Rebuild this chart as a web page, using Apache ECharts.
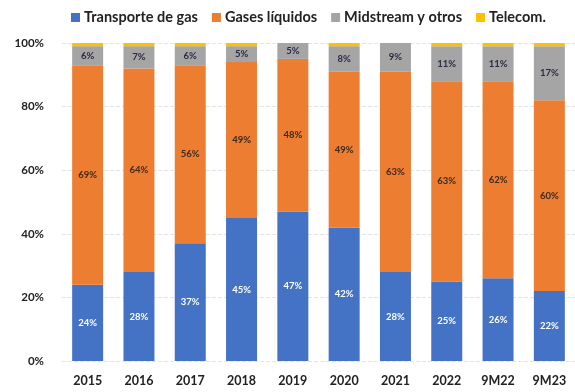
<!DOCTYPE html>
<html><head><meta charset="utf-8">
<script src="https://cdn.jsdelivr.net/npm/echarts@6/dist/echarts.min.js"></script>
<style>html,body{margin:0;padding:0;background:#fff}#c{width:575px;height:392px}</style>
</head><body><div id="c"></div>
<script>
const categories = ['2015','2016','2017','2018','2019','2020','2021','2022','9M22','9M23'];
const transporte = [24,28,37,45,47,42,28,25,26,22];
const gases = [69,64,56,49,48,49,63,63,62,60];
const midstream = [6,7,6,5,5,8,9,11,11,17];
const telecom = [1,1,1,1,0,1,0,1,1,1];
const seriesNames = ['Transporte de gas','Gases líquidos','Midstream y otros','Telecom.'];
const yTicks = [0,20,40,60,80,100];

const font = 'Lato, "Open Sans", sans-serif';
const chart = echarts.init(document.getElementById('c'));
function lbl(color){
  return {show:true, position:'inside', color:color, fontSize:9.5, fontWeight:'bold', fontFamily:font, formatter:p=>p.value+'%'};
}
chart.setOption({
  animation:false,
  legend:{top:5, left:66, itemWidth:9, itemHeight:9, itemGap:14, icon:'rect',
    textStyle:{fontSize:14.5, fontWeight:'bold', fontFamily:font, color:'#222', padding:[0,0,0,-1]},
    data:seriesNames},
  grid:{left:62, right:-3, top:43, bottom:31},
  xAxis:{type:'category', data:categories, axisLine:{show:false}, axisTick:{show:false},
    axisLabel:{fontSize:12.5, fontWeight:'bold', fontFamily:font, color:'#222', margin:13}},
  yAxis:{type:'value', min:0, max:100, interval:20,
    axisLabel:{formatter:v=>v+'%', fontSize:11.5, fontWeight:'bold', fontFamily:font, color:'#222', margin:18},
    splitLine:{lineStyle:{color:'#e4e4e4', type:'dashed'}}},
  series:[
    {name:seriesNames[0], type:'bar', stack:'a', data:transporte, barWidth:31, itemStyle:{color:'#4472C4'}, label:lbl('#fff')},
    {name:seriesNames[1], type:'bar', stack:'a', data:gases, barWidth:31, itemStyle:{color:'#ED7D31'}, label:lbl('#3a2a1a')},
    {name:seriesNames[2], type:'bar', stack:'a', data:midstream, barWidth:31, itemStyle:{color:'#A5A5A5'}, label:lbl('#2a2a44')},
    {name:seriesNames[3], type:'bar', stack:'a', data:telecom, barWidth:31, itemStyle:{color:'#FFC000'}}
  ]
});
</script></body></html>
